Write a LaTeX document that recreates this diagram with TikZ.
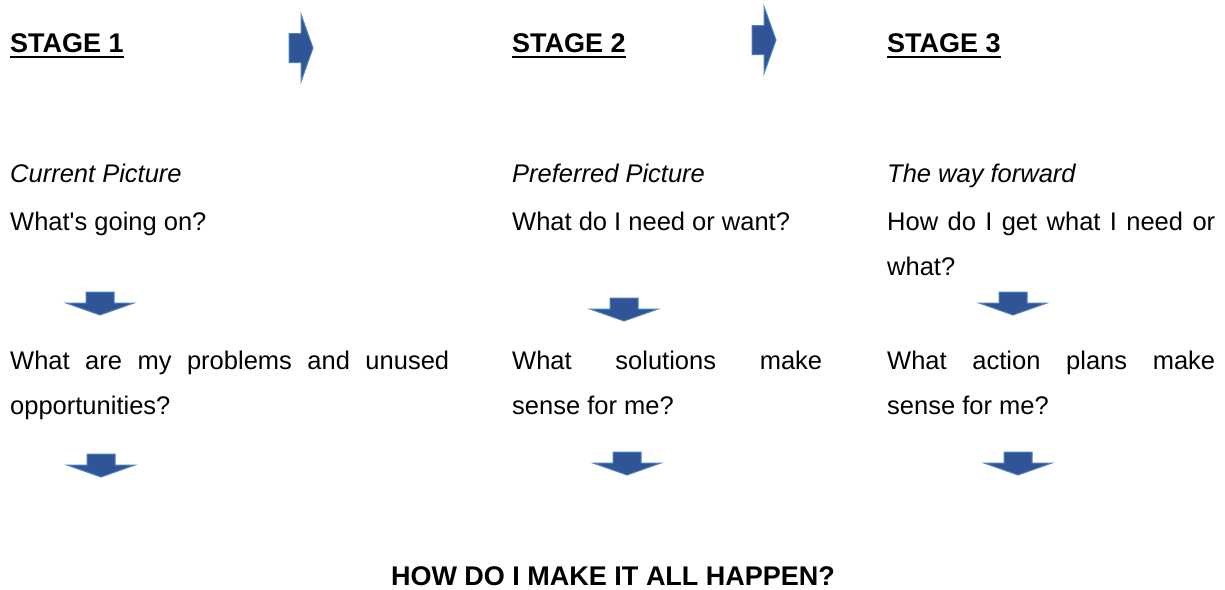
\documentclass[tikz,border=0pt]{standalone}
\usepackage{fontspec}
\setmainfont{Liberation Sans}
\definecolor{arrowfill}{RGB}{47,85,151}
\definecolor{arrowedge}{RGB}{79,129,189}
\newcommand\stageul[1]{\setbox0\hbox{#1}\rlap{\rule[-6pt]{\wd0}{2.2pt}}\box0}
\tikzset{
  x=1pt, y=-1pt,
  blockarrow/.style={fill=arrowfill, draw=arrowedge, line width=1pt, line join=miter},
  txt/.style={anchor=base west, inner sep=0pt, font=\fontsize{25.5}{30}\selectfont},
  head/.style={anchor=base west, inner sep=0pt, font=\fontsize{27}{31}\selectfont\bfseries},
  pics/downarrow/.style={code={
    \draw[blockarrow] (-14,-23) -- (14,-23) -- (14,-12) -- (34,-12) -- (0,0)
      -- (-34,-12) -- (-14,-12) -- cycle;}},
  pics/rightarrow/.style={code={
    \draw[blockarrow] (-24,-14.5) -- (-12,-14.5) -- (-12,-33.5) -- (0,0)
      -- (-12,33.5) -- (-12,14.5) -- (-24,14.5) -- cycle;}}
}
\begin{document}
\begin{tikzpicture}
\useasboundingbox (0,0) rectangle (1225,589);

% stage headings
\node[head] (s1) at (10,52) {\stageul{STAGE 1}};
\node[head] (s2) at (512,52) {\stageul{STAGE 2}};
\node[head] (s3) at (887,52) {\stageul{STAGE 3}};

% arrows between stages
\pic at (313,48) {rightarrow};
\pic at (776,40) {rightarrow};

% stage 1 column
\node[txt] (c1a) at (10,182) {\itshape Current Picture};
\node[txt] (c1b) at (10,230) {What\textquotesingle s going on?};
\pic at (100,315) {downarrow};
\node[txt] (c1c) at (10,369) {\makebox[439pt][s]{What are my problems and unused}};
\node[txt] (c1d) at (10,414) {opportunities?};
\pic at (101,477) {downarrow};

% stage 2 column
\node[txt] (c2a) at (512,182) {\itshape Preferred Picture};
\node[txt] (c2b) at (512,230) {What do I need or want?};
\pic at (624,321) {downarrow};
\node[txt] (c2c) at (512,369) {\makebox[310pt][s]{What solutions make}};
\node[txt] (c2d) at (512,414) {sense for me?};
\pic at (627,475) {downarrow};

% stage 3 column
\node[txt] (c3a) at (887,182) {\itshape The way forward};
\node[txt] (c3b) at (887,230) {\makebox[328pt][s]{How do I get what I need or}};
\node[txt] (c3c) at (887,275) {what?};
\pic at (1013,315) {downarrow};
\node[txt] (c3d) at (887,369) {\makebox[328pt][s]{What action plans make}};
\node[txt] (c3e) at (887,414) {sense for me?};
\pic at (1018,475) {downarrow};

% closing question
\node[head, anchor=base] (q) at (613,585) {HOW DO I MAKE IT ALL HAPPEN?};
\end{tikzpicture}
\end{document}
